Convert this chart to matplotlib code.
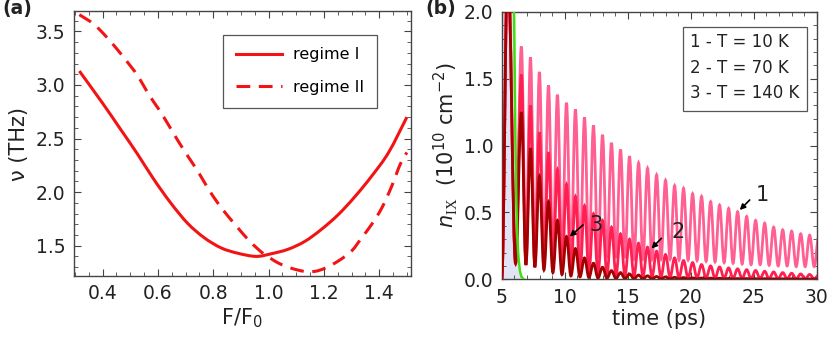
import matplotlib
matplotlib.use('Agg')
import matplotlib.pyplot as plt
from matplotlib.path import Path
from matplotlib.patches import PathPatch, Rectangle
from matplotlib.lines import Line2D
from matplotlib.ticker import MultipleLocator, FormatStrFormatter

plt.rcParams['font.family'] = ['DejaVu Sans']
plt.rcParams['mathtext.fontset'] = 'custom'
plt.rcParams['mathtext.rm'] = 'DejaVu Sans'
plt.rcParams['mathtext.it'] = 'DejaVu Sans:italic'
plt.rcParams['mathtext.tt'] = 'Liberation Serif'

# ---- panel (a): frequency vs F/F0 ----
F1 = [0.316, 0.40, 0.464, 0.525, 0.585, 0.646, 0.707, 0.767, 0.828, 0.888, 0.955,
      1.01, 1.07, 1.131, 1.19, 1.252, 1.313, 1.373, 1.434, 1.50]
nu1 = [3.13, 2.83, 2.59, 2.36, 2.12, 1.90, 1.71, 1.575, 1.48, 1.43, 1.40,
       1.425, 1.466, 1.54, 1.65, 1.79, 1.96, 2.15, 2.37, 2.70]

F2 = [0.316, 0.367, 0.41, 0.452, 0.50, 0.531, 0.567, 0.604, 0.64, 0.67, 0.707, 0.743,
      0.78, 0.816, 0.852, 0.888, 0.925, 0.961, 0.985, 1.034, 1.082, 1.13, 1.167,
      1.204, 1.252, 1.30, 1.337, 1.373, 1.41, 1.446, 1.476, 1.50]
nu2 = [3.656, 3.57, 3.46, 3.335, 3.18, 3.07, 2.91, 2.77, 2.62, 2.49, 2.34, 2.20,
       2.04, 1.90, 1.78, 1.67, 1.56, 1.47, 1.42, 1.34, 1.29, 1.26, 1.26,
       1.29, 1.357, 1.45, 1.575, 1.70, 1.855, 2.06, 2.26, 2.37]

# ---- panel (b): n_IX(t), oscillation extrema ----
t_spike = [5.0, 5.48, 6.1]
n_spike = [0.0, 2.4, 0.12]

t_peak = [6.56, 7.28, 7.99, 8.71, 9.42, 10.14, 10.85, 11.57, 12.28, 13.00, 13.71,
          14.43, 15.14, 15.86, 16.57, 17.29, 18.00, 18.72, 19.43, 20.15, 20.86,
          21.58, 22.29, 23.01, 23.72, 24.44, 25.15, 25.87, 26.58, 27.30, 28.01,
          28.73, 29.44, 30.16]
t_trough = [6.92, 7.63, 8.35, 9.06, 9.78, 10.49, 11.21, 11.92, 12.64, 13.35, 14.07,
            14.78, 15.50, 16.21, 16.93, 17.64, 18.36, 19.07, 19.79, 20.50, 21.22,
            21.93, 22.65, 23.36, 24.08, 24.79, 25.51, 26.22, 26.94, 27.65, 28.37,
            29.08, 29.80]

n1_peak = [1.74, 1.66, 1.55, 1.45, 1.38, 1.32, 1.27, 1.21, 1.15, 1.08,
           1.02, 0.97, 0.92, 0.87, 0.83, 0.78, 0.74, 0.70, 0.68, 0.64,
           0.62, 0.58, 0.555, 0.53, 0.505, 0.47, 0.44, 0.42, 0.39, 0.37,
           0.36, 0.34, 0.33, 0.32]
n1_trough = [0.13, 0.14, 0.15, 0.16, 0.16, 0.16, 0.16, 0.16, 0.16, 0.16,
             0.16, 0.16, 0.155, 0.155, 0.15, 0.15, 0.15, 0.145, 0.145, 0.14,
             0.135, 0.13, 0.125, 0.12, 0.115, 0.11, 0.11, 0.105, 0.10, 0.10,
             0.095, 0.095, 0.095]

n2_peak = [1.53, 1.30, 1.10, 0.95, 0.82, 0.71, 0.62, 0.55, 0.49, 0.44,
           0.39, 0.34, 0.30, 0.27, 0.24, 0.21, 0.185, 0.16, 0.14, 0.125,
           0.11, 0.10, 0.092, 0.085, 0.078, 0.072, 0.066, 0.06, 0.055, 0.05,
           0.045, 0.04, 0.036, 0.032]
n2_trough = [0.11, 0.10, 0.09, 0.08, 0.07, 0.06, 0.05, 0.045, 0.04, 0.035,
             0.03, 0.028, 0.025, 0.022, 0.02, 0.018, 0.016, 0.014, 0.012, 0.011,
             0.01, 0.009, 0.008, 0.007, 0.007, 0.006, 0.006, 0.005, 0.005, 0.005,
             0.004, 0.004, 0.004]

n3_peak = [1.25, 0.98, 0.77, 0.58, 0.44, 0.32, 0.23, 0.16, 0.12, 0.09,
           0.065, 0.05, 0.04, 0.032, 0.026, 0.021, 0.018, 0.015, 0.013, 0.011,
           0.01, 0.009, 0.008, 0.007, 0.006, 0.006, 0.005, 0.005, 0.004, 0.004,
           0.004, 0.003, 0.003, 0.003]
n3_trough = [0.107, 0.09, 0.07, 0.05, 0.035, 0.025, 0.018, 0.013, 0.01, 0.008,
             0.006, 0.005, 0.004, 0.004, 0.003, 0.003, 0.003, 0.002, 0.002, 0.002,
             0.002, 0.002, 0.002, 0.002, 0.002, 0.001, 0.001, 0.001, 0.001, 0.001,
             0.001, 0.001, 0.001]

t_green = [5.0, 5.5, 5.85, 5.98, 6.08, 6.16, 6.22, 6.29, 6.35, 6.45, 6.56, 6.75]
n_green = [6.0, 4.0, 2.6, 2.0, 1.09, 0.59, 0.34, 0.22, 0.14, 0.06, 0.02, 0.0]

legend_b = ['1 - T = 10 K', '2 - T = 70 K', '3 - T = 140 K']

RED = '#f21414'
C1, C2, C3 = '#ff5f92', '#ff1f50', '#a30000'
GREEN = '#44dd11'
FRAME = '#444444'
TXT = '#222222'


def smooth_path(xs, ys):
    # Catmull-Rom style cubic segments through the read points
    n = len(xs)
    verts = [(xs[0], ys[0])]
    codes = [Path.MOVETO]
    for i in range(n - 1):
        i0 = max(i - 1, 0)
        i3 = min(i + 2, n - 1)
        c1 = (xs[i] + (xs[i + 1] - xs[i0]) / 6, ys[i] + (ys[i + 1] - ys[i0]) / 6)
        c2 = (xs[i + 1] - (xs[i3] - xs[i]) / 6, ys[i + 1] - (ys[i3] - ys[i]) / 6)
        verts += [c1, c2, (xs[i + 1], ys[i + 1])]
        codes += [Path.CURVE4] * 3
    return Path(verts, codes)


def wave_path(tp, vp, tt, vt):
    # smooth wave through the extrema (horizontal tangents at each one)
    ts = list(t_spike)
    vs = list(n_spike)
    for i in range(len(tp)):
        ts.append(tp[i])
        vs.append(vp[i])
        if i < len(tt):
            ts.append(tt[i])
            vs.append(vt[i])
    verts = [(ts[0], vs[0])]
    codes = [Path.MOVETO]
    for i in range(1, len(ts)):
        d = 0.364 * (ts[i] - ts[i - 1])
        verts += [(ts[i - 1] + d, vs[i - 1]), (ts[i] - d, vs[i]), (ts[i], vs[i])]
        codes += [Path.CURVE4] * 3
    return Path(verts, codes)


def style_axes(ax):
    for s in ax.spines.values():
        s.set_color(FRAME)
        s.set_linewidth(1.0)
    ax.tick_params(which='both', direction='in', top=True, right=True,
                   color=FRAME, labelsize=13.5, labelcolor=TXT)
    ax.tick_params(which='major', length=5, width=0.8, pad=6)
    ax.tick_params(which='minor', length=3, width=0.6)


fig = plt.figure(figsize=(8.3, 3.56), dpi=100)

# panel (a)
axa = fig.add_axes([0.0886, 0.2247, 0.4066, 0.7443])
axa.add_patch(PathPatch(smooth_path(F1, nu1), fill=False, edgecolor=RED, lw=2.2))
axa.add_patch(PathPatch(smooth_path(F2, nu2), fill=False, edgecolor=RED, lw=2.2,
                        linestyle=(0, (4.5, 2.8))))
axa.set_xlim(0.295, 1.515)
axa.set_ylim(1.217, 3.69)
axa.xaxis.set_major_locator(MultipleLocator(0.2))
axa.xaxis.set_minor_locator(MultipleLocator(0.05))
axa.yaxis.set_major_locator(MultipleLocator(0.5))
axa.yaxis.set_minor_locator(MultipleLocator(0.1))
axa.xaxis.set_major_formatter(FormatStrFormatter('%.1f'))
axa.yaxis.set_major_formatter(FormatStrFormatter('%.1f'))
style_axes(axa)
axa.set_xlabel('F/F$_0$', fontsize=15, color=TXT, labelpad=2)
axa.set_ylabel('ν (THz)', fontsize=15, color=TXT, labelpad=5)
handles = [Line2D([0], [0], color=RED, lw=2.2),
           Line2D([0], [0], color=RED, lw=2.2, dashes=(4.5, 2.8))]
leg = axa.legend(handles, ['regime I', 'regime II'], loc='upper left',
                 bbox_to_anchor=(0.444, 0.911), fontsize=11.5,
                 handlelength=2.9, handletextpad=0.66, labelspacing=1.1,
                 borderpad=0.8, borderaxespad=0, fancybox=False,
                 edgecolor='#555555', framealpha=1)
leg.get_frame().set_linewidth(0.9)
fig.text(0.003, 0.96, '(a)', fontsize=13.5, fontweight='bold', color=TXT)

# panel (b)
axb = fig.add_axes([0.6045, 0.2154, 0.3795, 0.7516])
axb.fill_between(t_green, 0, n_green, color='#e3e3f6', lw=0, zorder=1)
axb.add_patch(PathPatch(wave_path(t_peak, n1_peak, t_trough, n1_trough),
                        fill=False, edgecolor=C1, lw=2.0, zorder=2))
axb.add_patch(PathPatch(wave_path(t_peak, n2_peak, t_trough, n2_trough),
                        fill=False, edgecolor=C2, lw=2.0, zorder=3))
axb.add_patch(PathPatch(wave_path(t_peak, n3_peak, t_trough, n3_trough),
                        fill=False, edgecolor=C3, lw=2.0, zorder=4))
axb.plot(t_green, n_green, color=GREEN, lw=1.8, zorder=5)
axb.set_xlim(5, 30)
axb.set_ylim(0, 2.0)
axb.xaxis.set_major_locator(MultipleLocator(5))
axb.xaxis.set_minor_locator(MultipleLocator(1))
axb.yaxis.set_major_locator(MultipleLocator(0.5))
axb.yaxis.set_minor_locator(MultipleLocator(0.1))
axb.yaxis.set_major_formatter(FormatStrFormatter('%.1f'))
style_axes(axb)
axb.set_xlabel('time (ps)', fontsize=15, color=TXT, labelpad=2)
axb.set_ylabel(r'$n_{\mathtt{IX}}$  (10$^{10}$ cm$^{-2}$)', fontsize=15,
               color=TXT, labelpad=3)

arrows = [('1', (23.89, 0.518), (24.68, 0.593), (25.16, 0.63)),
          ('2', (16.88, 0.23), (17.67, 0.306), (18.47, 0.356)),
          ('3', (10.4, 0.32), (11.45, 0.406), (11.98, 0.405))]
for lab, head, tail, tpos in arrows:
    axb.annotate('', xy=head, xytext=tail, zorder=6,
                 arrowprops=dict(arrowstyle='-|>', color='black', lw=1.2,
                                 mutation_scale=8, shrinkA=0, shrinkB=0))
    axb.text(tpos[0], tpos[1], lab, fontsize=15, color=TXT,
             ha='left', va='center', zorder=6)

axb.add_patch(Rectangle((0.576, 0.629), 0.392, 0.315, transform=axb.transAxes,
                        fc='white', ec='#555555', lw=0.9, zorder=7))
for i, s in enumerate(legend_b):
    axb.text(0.598, 0.887 - i * 0.0955, s, transform=axb.transAxes, fontsize=12,
             color=TXT, va='center', ha='left', zorder=8)
fig.text(0.512, 0.96, '(b)', fontsize=13.5, fontweight='bold', color=TXT)

fig.savefig('out.png', dpi=100)
